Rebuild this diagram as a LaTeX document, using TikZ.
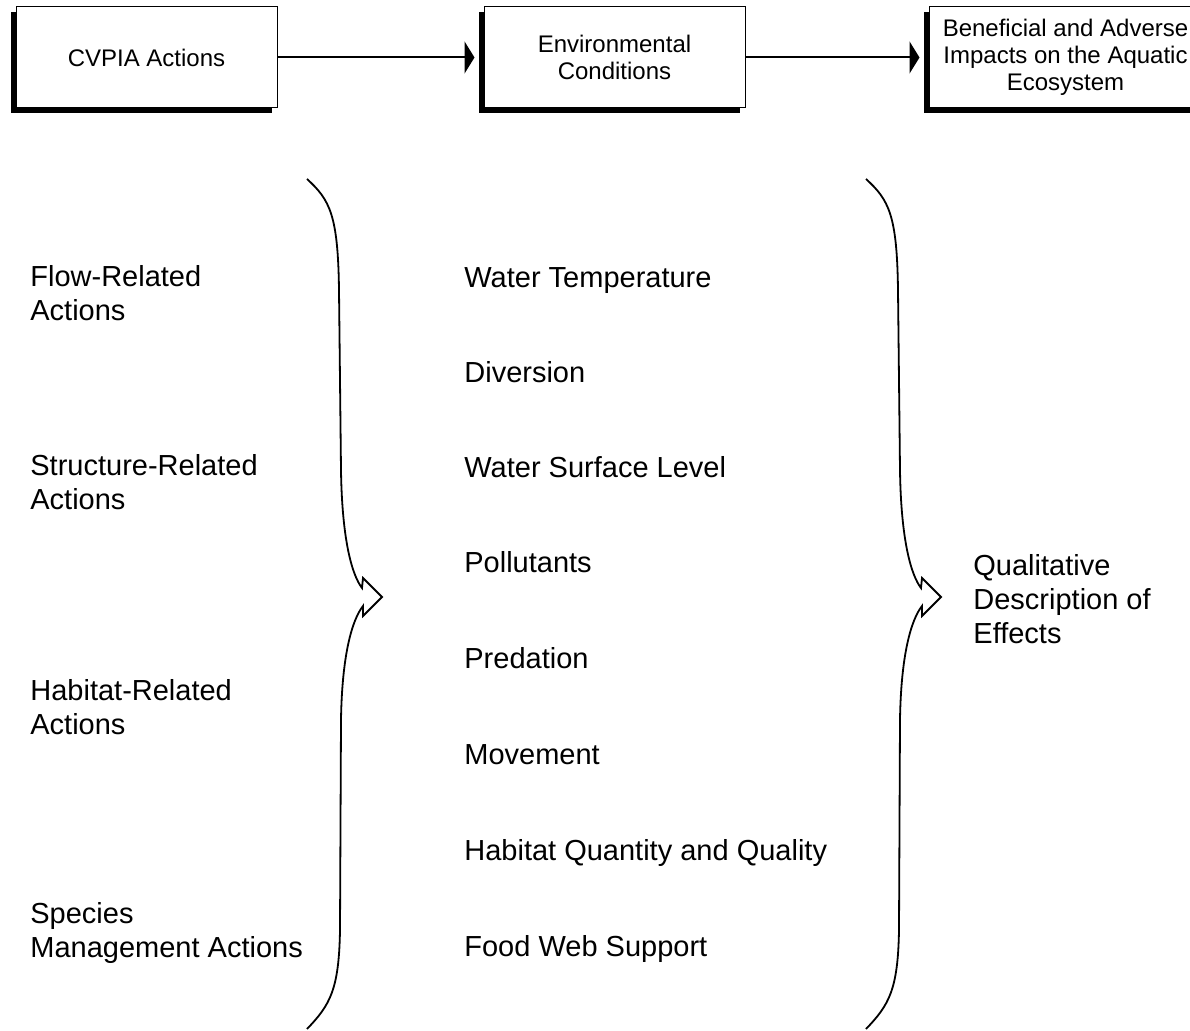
\documentclass[tikz,border=0pt]{standalone}
\usepackage{fontspec}
\setmainfont{Liberation Sans}
\usetikzlibrary{arrows.meta,shadows}

\tikzset{
  stage/.style={draw, line width=0.5pt, fill=white, minimum width=130.5pt, minimum height=50.5pt,
    inner sep=0pt, align=center, font=\fontsize{12}{13.5}\selectfont,
    drop shadow={shadow xshift=-2.5pt, shadow yshift=-2.5pt, fill=black, opacity=1}},
  flow/.style={line width=1pt, -{Triangle[length=5pt,width=16pt]}, shorten >=4.5pt},
  item/.style={inner sep=0pt, align=left, font=\fontsize{14.5}{17}\selectfont},
  brace/.style={line width=0.9pt, line join=miter}
}

\begin{document}
\begin{tikzpicture}[x=0.5pt, y=-0.5pt]
\clip (0,0) rectangle (1190,1031);

% The three stages across the top
\node[stage] (actions) at (146.5, 57.5) {CVPIA Actions};
\node[stage] (conditions) at (614.5, 57.5) {Environmental\\Conditions};
\node[stage, minimum width=136.5pt] (impacts) at (1065.5, 57.5) {Beneficial and Adverse\\Impacts on the Aquatic\\Ecosystem};

\draw[flow] (actions) -- (conditions);
\draw[flow] (conditions) -- (impacts);

% Kinds of actions
\node[item, anchor=west] (flowact) at (30, 293) {Flow-Related\\Actions};
\node[item, anchor=west] (structact) at (30, 482.5) {Structure-Related\\Actions};
\node[item, anchor=west] (habact) at (30, 707) {Habitat-Related\\Actions};
\node[item, anchor=west] (speciesact) at (30, 933) {Species\\Management Actions};

% Conditions that the actions change
\node[item, anchor=base west] (temp) at (464, 287.5) {Water Temperature};
\node[item, anchor=base west] (diversion) at (464, 382.5) {Diversion};
\node[item, anchor=base west] (level) at (464, 477.5) {Water Surface Level};
\node[item, anchor=base west] (pollutants) at (464, 573) {Pollutants};
\node[item, anchor=base west] (predation) at (464, 669) {Predation};
\node[item, anchor=base west] (movement) at (464, 764.5) {Movement};
\node[item, anchor=base west] (habitat) at (464, 860.5) {Habitat Quantity and Quality};
\node[item, anchor=base west] (foodweb) at (464, 956.5) {Food Web Support};

% Effects
\node[item, anchor=west] (effects) at (973, 599) {Qualitative\\Description of\\Effects};

% Two braces with an open point in the middle
\foreach \dx in {0,559} {
  \draw[brace, shift={(\dx,0)}] (307,179) .. controls (330,200) and (338,215) .. (339,290)
    -- (341,470) .. controls (342,540) and (352,575) .. (362,588)
    -- (363,578) -- (382,597) -- (363,616) -- (363,606)
    .. controls (352,620) and (342,655) .. (341,720)
    -- (340,930) .. controls (339,990) and (330,1005) .. (307,1029);
}
\end{tikzpicture}
\end{document}
